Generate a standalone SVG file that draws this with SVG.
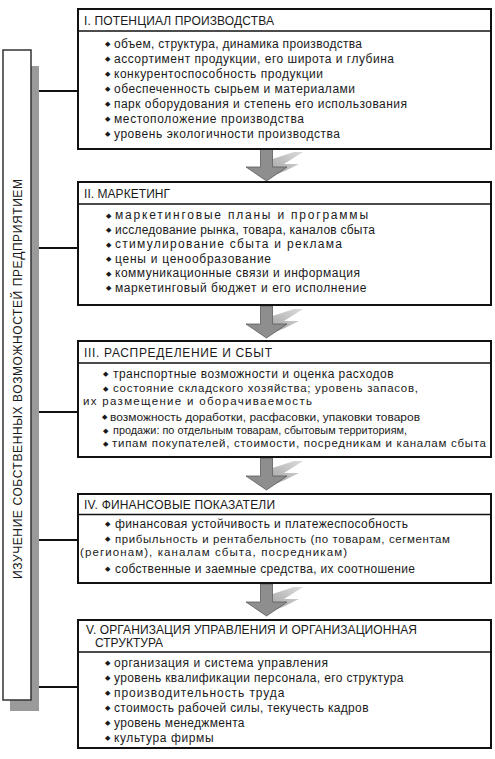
<svg xmlns="http://www.w3.org/2000/svg" width="495" height="759" viewBox="0 0 495 759">
<style>
text{font-family:"Liberation Sans",Arial,sans-serif;fill:#1a1a1a}
.t{font-size:12px}
.i{font-size:12px}
.s{font-size:11.5px}
.b{font-size:7px}
.box{fill:#fff;stroke:#111;stroke-width:2}
.sep{stroke:#111;stroke-width:1.6}
.con{stroke:#111;stroke-width:2;fill:none}
.arr{fill:#8e8e8e;stroke:#5a5a5a;stroke-width:0.8}
.sh{fill:url(#g)}
</style>
<defs>
<linearGradient id="g" x1="0" y1="1" x2="1" y2="0">
<stop offset="0" stop-color="#a4a4a4"/>
<stop offset="1" stop-color="#dcdcdc"/>
</linearGradient>
<g id="arrow">
<polygon class="sh" points="272.5,10 294,3 303,3 284,15 299,15 285,22 272.5,27"/>
<polygon class="arr" points="260.5,0 272.5,0 272.5,18 287,18 266.5,32 246,18 260.5,18"/>
</g>
</defs>

<g id="side">
<rect x="10" y="66" width="29" height="645" fill="#9a9a9a"/>
<rect x="3" y="50" width="28" height="650" fill="#fff" stroke="#333" stroke-width="1.5"/>
<text class="t" font-size="12.5" x="21.5" y="379" text-anchor="middle" textLength="400" lengthAdjust="spacing" transform="rotate(-90 21.5 379)">ИЗУЧЕНИЕ СОБСТВЕННЫХ ВОЗМОЖНОСТЕЙ ПРЕДПРИЯТИЕМ</text>
</g>

<g id="connectors">
<line class="con" x1="39" y1="91" x2="78" y2="91"/>
<line class="con" x1="39" y1="248" x2="78" y2="248"/>
<line class="con" x1="39" y1="412" x2="78" y2="412"/>
<line class="con" x1="39" y1="540" x2="78" y2="540"/>
<line class="con" x1="39" y1="687" x2="78" y2="687"/>
<use href="#arrow" transform="translate(0,149)"/>
<use href="#arrow" transform="translate(0,306)"/>
<use href="#arrow" transform="translate(0,458)"/>
<use href="#arrow" transform="translate(0,584)"/>
</g>

<g id="box1">
<rect class="box" x="78" y="9" width="413" height="140"/>
<line class="sep" x1="78" y1="31" x2="491" y2="31"/>
<text class="t" x="84" y="24.5" textLength="190" lengthAdjust="spacing">I. ПОТЕНЦИАЛ ПРОИЗВОДСТВА</text>
<g class="b"><text x="105" y="46">◆</text><text x="105" y="61">◆</text><text x="105" y="76">◆</text><text x="105" y="91">◆</text><text x="105" y="106">◆</text><text x="105" y="121">◆</text><text x="105" y="136">◆</text></g>
<text class="i" x="114" y="47.5" textLength="248" lengthAdjust="spacing">объем, структура, динамика производства</text>
<text class="i" x="114" y="62.5" textLength="280" lengthAdjust="spacing">ассортимент продукции, его широта и глубина</text>
<text class="i" x="114" y="77.5" textLength="209" lengthAdjust="spacing">конкурентоспособность продукции</text>
<text class="i" x="114" y="92.5" textLength="241" lengthAdjust="spacing">обеспеченность сырьем и материалами</text>
<text class="i" x="114" y="107.5" textLength="293" lengthAdjust="spacing">парк оборудования и степень его использования</text>
<text class="i" x="114" y="122.5" textLength="190" lengthAdjust="spacing">местоположение производства</text>
<text class="i" x="114" y="137.5" textLength="226" lengthAdjust="spacing">уровень экологичности производства</text>
</g>

<g id="box2">
<rect class="box" x="78" y="182" width="413" height="123"/>
<line class="sep" x1="78" y1="204" x2="491" y2="204"/>
<text class="t" x="84" y="197.5" textLength="86" lengthAdjust="spacing">II. МАРКЕТИНГ</text>
<g class="b"><text x="105.5" y="217.5">◆</text><text x="105.5" y="232">◆</text><text x="105.5" y="246.5">◆</text><text x="105.5" y="261">◆</text><text x="105.5" y="275.5">◆</text><text x="105.5" y="290">◆</text></g>
<text class="i" x="115" y="219" textLength="253" lengthAdjust="spacing">маркетинговые планы и программы</text>
<text class="i" x="115" y="233.5" textLength="260" lengthAdjust="spacing">исследование рынка, товара, каналов сбыта</text>
<text class="i" x="115" y="248" textLength="227" lengthAdjust="spacing">стимулирование сбыта и реклама</text>
<text class="i" x="115" y="262.5" textLength="156" lengthAdjust="spacing">цены и ценообразование</text>
<text class="i" x="115" y="277" textLength="245" lengthAdjust="spacing">коммуникационные связи и информация</text>
<text class="i" x="115" y="291.5" textLength="251.5" lengthAdjust="spacing">маркетинговый бюджет и его исполнение</text>
</g>

<g id="box3">
<rect class="box" x="78" y="341" width="413" height="116"/>
<line class="sep" x1="78" y1="363" x2="491" y2="363"/>
<text class="t" x="84" y="356.5" textLength="188" lengthAdjust="spacing">III. РАСПРЕДЕЛЕНИЕ И СБЫТ</text>
<g class="b"><text x="103" y="376">◆</text><text x="103" y="390.5">◆</text><text x="102" y="419">◆</text><text x="103" y="432.5">◆</text><text x="103" y="445.5">◆</text></g>
<text class="i" x="113" y="377.5" textLength="280.5" lengthAdjust="spacing">транспортные возможности и оценка расходов</text>
<text class="s" x="113" y="392" textLength="305" lengthAdjust="spacing">состояние складского хозяйства; уровень запасов,</text>
<text class="s" x="83" y="405" textLength="229" lengthAdjust="spacing">их размещение и оборачиваемость</text>
<text class="s" x="110" y="420.5" textLength="310" lengthAdjust="spacingAndGlyphs">возможность доработки, расфасовки, упаковки товаров</text>
<text class="s" x="113" y="434" textLength="294" lengthAdjust="spacingAndGlyphs">продажи: по отдельным товарам, сбытовым территориям,</text>
<text class="s" x="112" y="447" textLength="374" lengthAdjust="spacing">типам покупателей, стоимости, посредникам и каналам сбыта</text>
</g>

<g id="box4">
<rect class="box" x="78" y="494" width="413" height="89"/>
<line class="sep" x1="78" y1="514.5" x2="491" y2="514.5"/>
<text class="t" x="84" y="508.5" textLength="191" lengthAdjust="spacing">IV. ФИНАНСОВЫЕ ПОКАЗАТЕЛИ</text>
<g class="b"><text x="105" y="526">◆</text><text x="105" y="541">◆</text><text x="105" y="571">◆</text></g>
<text class="i" x="115" y="527.5" textLength="293" lengthAdjust="spacing">финансовая устойчивость и платежеспособность</text>
<text class="s" x="115" y="542.5" textLength="335" lengthAdjust="spacing">прибыльность и рентабельность (по товарам, сегментам</text>
<text class="s" x="80" y="555.5" textLength="267" lengthAdjust="spacing">(регионам), каналам сбыта, посредникам)</text>
<text class="i" x="115" y="572.5" textLength="300" lengthAdjust="spacing">собственные и заемные средства, их соотношение</text>
</g>

<g id="box5">
<rect class="box" x="78" y="620" width="413" height="128"/>
<line class="sep" x1="78" y1="652" x2="491" y2="652"/>
<text class="t" x="86" y="633.5" textLength="331" lengthAdjust="spacing">V. ОРГАНИЗАЦИЯ УПРАВЛЕНИЯ И ОРГАНИЗАЦИОННАЯ</text>
<text class="t" x="95" y="646.5">СТРУКТУРА</text>
<g class="b"><text x="104.5" y="665">◆</text><text x="104.5" y="680">◆</text><text x="104.5" y="695">◆</text><text x="104.5" y="710">◆</text><text x="104.5" y="725">◆</text><text x="104.5" y="740">◆</text></g>
<text class="i" x="114" y="666.5" textLength="214" lengthAdjust="spacing">организация и система управления</text>
<text class="i" x="114" y="681.5" textLength="289.5" lengthAdjust="spacing">уровень квалификации персонала, его структура</text>
<text class="i" x="114" y="696.5" textLength="170.5" lengthAdjust="spacing">производительность труда</text>
<text class="i" x="114" y="711.5" textLength="254.5" lengthAdjust="spacing">стоимость рабочей силы, текучесть кадров</text>
<text class="i" x="114" y="726.5" textLength="130.5" lengthAdjust="spacing">уровень менеджмента</text>
<text class="i" x="114" y="741.5" textLength="99.5" lengthAdjust="spacing">культура фирмы</text>
</g>
</svg>
